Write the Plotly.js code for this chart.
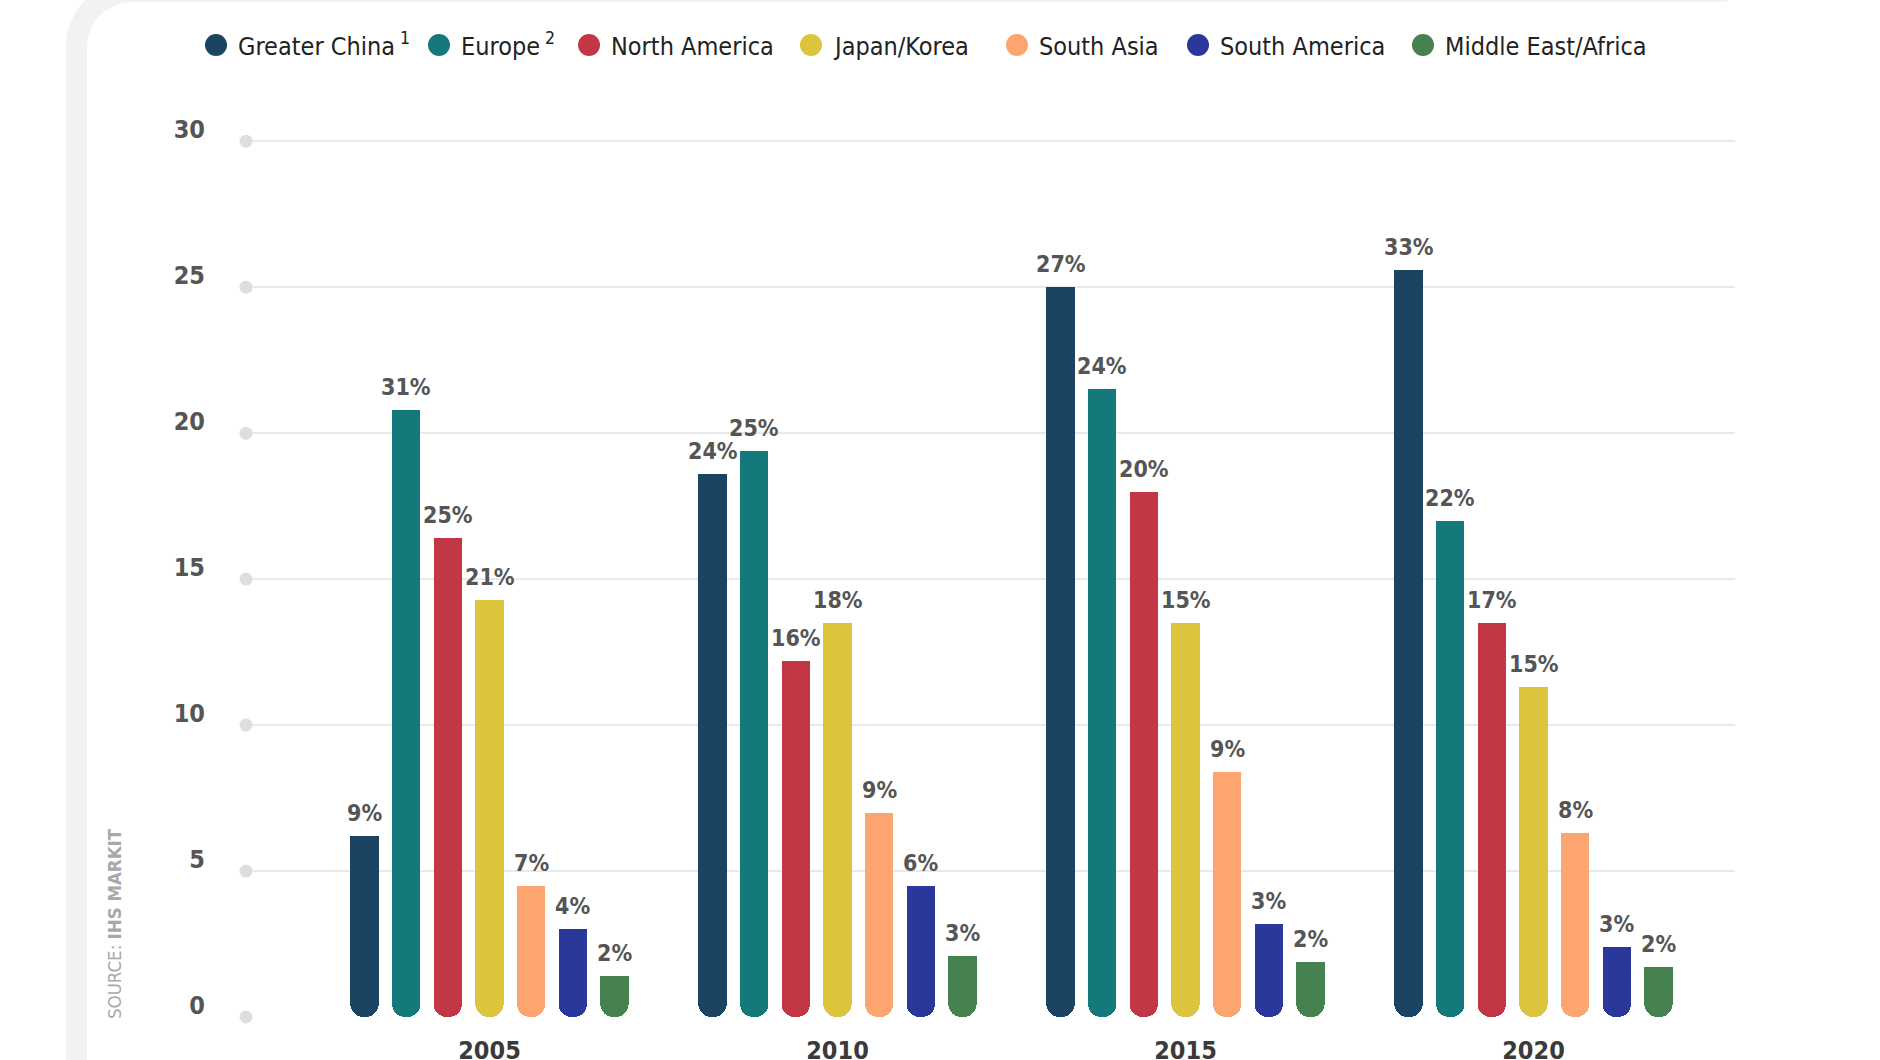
<!DOCTYPE html>
<html>
<head>
<meta charset="utf-8">
<script src="https://cdn.plot.ly/plotly-3.0.1.min.js"></script>
<style>
  html, body { margin: 0; padding: 0; background: #ffffff; width: 1880px; height: 1060px; overflow: hidden; }
  #frame {
    position: absolute; left: 66px; top: -19px; width: 1661px; height: 1200px;
    box-sizing: border-box; background: #ffffff;
    border-left: 21px solid #f2f2f2; border-top: 21px solid #f2f2f2;
    border-top-left-radius: 66px;
  }
  #chart { position: absolute; left: 0; top: 0; width: 1880px; height: 1060px; }
  #chart .barlayer path { shape-rendering: crispEdges !important; }
</style>
</head>
<body>
<div id="frame"></div>
<div id="chart"></div>
<script>
// ---------------- data ----------------
const years = ['2005', '2010', '2015', '2020'];
const seriesNames = ['Greater China', 'Europe', 'North America', 'Japan/Korea', 'South Asia', 'South America', 'Middle East/Africa'];
const seriesNotes = ['1', '2', '', '', '', '', ''];

const greaterChina     = [6.2, 18.6, 25.0, 25.6];
const europe           = [20.8, 19.4, 21.5, 17.0];
const northAmerica     = [16.4, 12.2, 18.0, 13.5];
const japanKorea       = [14.3, 13.5, 13.5, 11.3];
const southAsia        = [4.5, 7.0, 8.4, 6.3];
const southAmerica     = [3.0, 4.5, 3.2, 2.4];
const middleEastAfrica = [1.4, 2.1, 1.9, 1.7];

const greaterChinaPct     = ['9%', '24%', '27%', '33%'];
const europePct           = ['31%', '25%', '24%', '22%'];
const northAmericaPct     = ['25%', '16%', '20%', '17%'];
const japanKoreaPct       = ['21%', '18%', '15%', '15%'];
const southAsiaPct        = ['7%', '9%', '9%', '8%'];
const southAmericaPct     = ['4%', '6%', '3%', '3%'];
const middleEastAfricaPct = ['2%', '3%', '2%', '2%'];

const yTicks = [0, 5, 10, 15, 20, 25, 30];
const sourceLabel = 'SOURCE: <b>IHS MARKIT</b>';

// ---------------- styles / layout ----------------
const values = [greaterChina, europe, northAmerica, japanKorea, southAsia, southAmerica, middleEastAfrica];
const pcts = [greaterChinaPct, europePct, northAmericaPct, japanKoreaPct, southAsiaPct, southAmericaPct, middleEastAfricaPct];
const colors = ['#1b4463', '#15787a', '#c23745', '#dcc43c', '#fda56f', '#29389a', '#45824f'];

const FONT = '"Liberation Sans Narrow", "DejaVu Sans Condensed", "Roboto", sans-serif';
const W = 1880, H = 1060;
const M = { l: 246, r: 145, t: 112, b: 43 };
const plotW = W - M.l - M.r, plotH = H - M.t - M.b;
const xRange = [-0.6997, 3.579];
const yRange = [0, 31];
const slot = 0.1197;      // spacing between bars inside a group (axis units)
const barW = 0.0813;      // bar width (axis units)
const capCover = 0.55;    // flat top cover depth (axis units), hides the upper rounding

const px2paperX = px => (px - M.l) / plotW;
const px2paperY = py => (M.t + plotH - py) / plotH;

const xIdx = years.map((_, i) => i);

const traces = [];
// grid dots at left end of gridlines
traces.push({
  type: 'scatter', mode: 'markers',
  x: yTicks.map(() => xRange[0]), y: yTicks,
  marker: { size: 13, color: '#dedede' },
  cliponaxis: false, hoverinfo: 'skip', showlegend: false
});

const annotations = [];
values.forEach((vals, i) => {
  const center = (i - 3) * slot;
  // full bar drawn from its top down to zero, rounded ends
  traces.push({
    type: 'bar',
    name: seriesNames[i],
    x: xIdx,
    base: vals,
    y: vals.map(v => -v),
    width: barW,
    offset: center - barW / 2,
    marker: { color: colors[i], cornerradius: 13, line: { width: 0 } },
    hovertemplate: seriesNames[i] + ' %{x}: %{base}<extra></extra>',
    showlegend: false
  });
  // flat cover for the top end of the bar
  traces.push({
    type: 'bar',
    name: seriesNames[i],
    x: xIdx,
    base: vals.map(v => v - capCover),
    y: vals.map(() => capCover),
    width: barW,
    offset: center - barW / 2,
    marker: { color: colors[i], line: { width: 0 } },
    hoverinfo: 'skip',
    showlegend: false
  });
  vals.forEach((v, j) => {
    annotations.push({
      x: xIdx[j] + center, y: v, xref: 'x', yref: 'y',
      text: pcts[i][j], showarrow: false,
      xanchor: 'center', yanchor: 'bottom', yshift: 8,
      font: { family: FONT, size: 23, color: '#555555', weight: 700 }
    });
  });
});

// custom legend (circles + text)
const legendCx = [216, 439, 589, 811, 1017, 1198, 1423];
const legendCy = 45;
const shapes = [];
seriesNames.forEach((name, i) => {
  shapes.push({
    type: 'circle', xref: 'paper', yref: 'paper',
    xsizemode: 'pixel', ysizemode: 'pixel',
    xanchor: px2paperX(legendCx[i]), yanchor: px2paperY(legendCy),
    x0: -11, x1: 11, y0: -11, y1: 11,
    fillcolor: colors[i], line: { width: 0 }
  });
  annotations.push({
    xref: 'paper', yref: 'paper',
    x: px2paperX(legendCx[i] + 20), y: px2paperY(legendCy + 1),
    xanchor: 'left', yanchor: 'middle', showarrow: false,
    yshift: seriesNotes[i] ? 2 : 0,
    text: name + (seriesNotes[i] ? '<sup> ' + seriesNotes[i] + '</sup>' : ''),
    font: { family: FONT, size: 25, color: '#222222' }
  });
});

// source
annotations.push({
  xref: 'paper', yref: 'paper',
  x: px2paperX(114), y: px2paperY(924), xanchor: 'center', yanchor: 'middle',
  textangle: -90, showarrow: false, text: sourceLabel,
  font: { family: FONT, size: 18.5, color: '#a8a8a8' }
});

const layout = {
  width: W, height: H,
  margin: M,
  paper_bgcolor: 'rgba(0,0,0,0)',
  plot_bgcolor: 'rgba(0,0,0,0)',
  barmode: 'overlay',
  showlegend: false,
  xaxis: {
    type: 'linear', range: xRange, fixedrange: true,
    tickvals: xIdx, ticktext: years,
    showgrid: false, zeroline: false, showline: false, ticks: '',
    ticklabelstandoff: 16,
    tickfont: { family: FONT, size: 25, color: '#3a3a3a', weight: 700 }
  },
  yaxis: {
    range: yRange, fixedrange: true,
    tickvals: yTicks, ticktext: yTicks.map(String),
    showgrid: true, gridcolor: '#e9e9e9', gridwidth: 2,
    zeroline: true, zerolinecolor: 'rgba(0,0,0,0)',
    showline: false, ticks: '', ticklabelstandoff: 40, ticklabelshift: -12,
    tickfont: { family: FONT, size: 25, color: '#555555', weight: 700 }
  },
  shapes: shapes,
  annotations: annotations
};

Plotly.newPlot('chart', traces, layout, { displayModeBar: false, staticPlot: true });
</script>
</body>
</html>
